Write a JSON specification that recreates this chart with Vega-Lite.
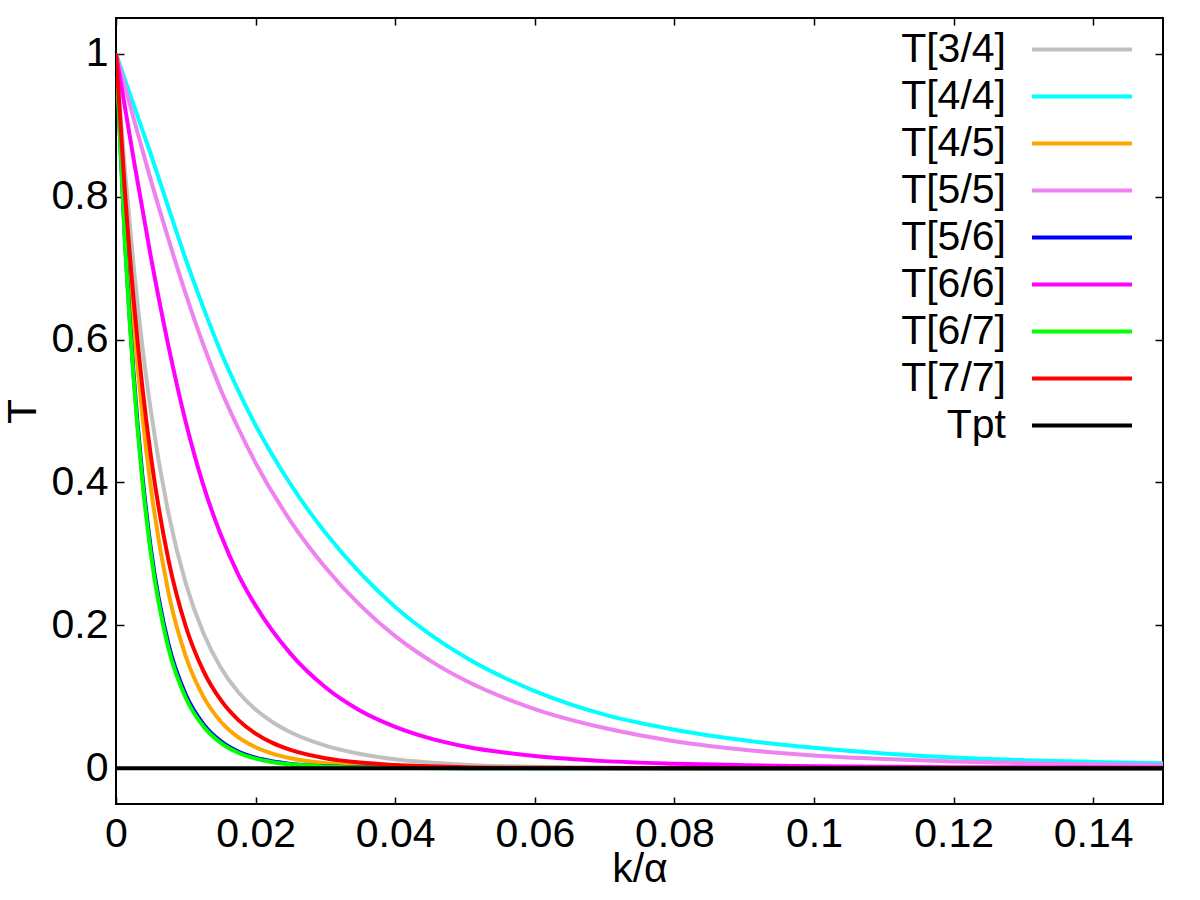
{
  "$schema": "https://vega.github.io/schema/vega-lite/v6.json",
  "width": 1047,
  "height": 786,
  "autosize": "none",
  "padding": {"left": 116, "top": 18, "right": 37, "bottom": 96},
  "background": "white",
  "config": {
    "view": {"stroke": "#000", "strokeWidth": 2},
    "font": "Liberation Sans"
  },
  "data": {
    "values": [
      {"s": "T[3/4]", "k": 0, "T": 1},
      {"s": "T[3/4]", "k": 0.00125, "T": 0.8395},
      {"s": "T[3/4]", "k": 0.0025, "T": 0.7054},
      {"s": "T[3/4]", "k": 0.00375, "T": 0.5928},
      {"s": "T[3/4]", "k": 0.005, "T": 0.4996},
      {"s": "T[3/4]", "k": 0.0075, "T": 0.3574},
      {"s": "T[3/4]", "k": 0.01, "T": 0.2585},
      {"s": "T[3/4]", "k": 0.0125, "T": 0.1896},
      {"s": "T[3/4]", "k": 0.015, "T": 0.1411},
      {"s": "T[3/4]", "k": 0.0175, "T": 0.1068},
      {"s": "T[3/4]", "k": 0.02, "T": 0.0821},
      {"s": "T[3/4]", "k": 0.0225, "T": 0.064},
      {"s": "T[3/4]", "k": 0.025, "T": 0.0504},
      {"s": "T[3/4]", "k": 0.03, "T": 0.0317},
      {"s": "T[3/4]", "k": 0.035, "T": 0.02},
      {"s": "T[3/4]", "k": 0.04, "T": 0.0126},
      {"s": "T[3/4]", "k": 0.05, "T": 0.00503},
      {"s": "T[3/4]", "k": 0.06, "T": 0.002},
      {"s": "T[3/4]", "k": 0.08, "T": 0.00032},
      {"s": "T[3/4]", "k": 0.1, "T": 0.00005},
      {"s": "T[3/4]", "k": 0.15, "T": 0},

      {"s": "T[4/4]", "k": 0, "T": 1},
      {"s": "T[4/4]", "k": 0.0025, "T": 0.929},
      {"s": "T[4/4]", "k": 0.005, "T": 0.859},
      {"s": "T[4/4]", "k": 0.0075, "T": 0.785},
      {"s": "T[4/4]", "k": 0.01, "T": 0.712},
      {"s": "T[4/4]", "k": 0.0125, "T": 0.645},
      {"s": "T[4/4]", "k": 0.015, "T": 0.583},
      {"s": "T[4/4]", "k": 0.0175, "T": 0.529},
      {"s": "T[4/4]", "k": 0.02, "T": 0.48},
      {"s": "T[4/4]", "k": 0.025, "T": 0.3975},
      {"s": "T[4/4]", "k": 0.03, "T": 0.3296},
      {"s": "T[4/4]", "k": 0.035, "T": 0.273},
      {"s": "T[4/4]", "k": 0.04, "T": 0.2258},
      {"s": "T[4/4]", "k": 0.045, "T": 0.1875},
      {"s": "T[4/4]", "k": 0.05, "T": 0.1557},
      {"s": "T[4/4]", "k": 0.06, "T": 0.108},
      {"s": "T[4/4]", "k": 0.07, "T": 0.075},
      {"s": "T[4/4]", "k": 0.08, "T": 0.054},
      {"s": "T[4/4]", "k": 0.09, "T": 0.0392},
      {"s": "T[4/4]", "k": 0.1, "T": 0.0287},
      {"s": "T[4/4]", "k": 0.11, "T": 0.0208},
      {"s": "T[4/4]", "k": 0.12, "T": 0.015},
      {"s": "T[4/4]", "k": 0.13, "T": 0.0114},
      {"s": "T[4/4]", "k": 0.14, "T": 0.0089},
      {"s": "T[4/4]", "k": 0.15, "T": 0.0071},

      {"s": "T[4/5]", "k": 0, "T": 1},
      {"s": "T[4/5]", "k": 0.00125, "T": 0.7937},
      {"s": "T[4/5]", "k": 0.0025, "T": 0.6281},
      {"s": "T[4/5]", "k": 0.00375, "T": 0.4966},
      {"s": "T[4/5]", "k": 0.005, "T": 0.3926},
      {"s": "T[4/5]", "k": 0.0075, "T": 0.2466},
      {"s": "T[4/5]", "k": 0.01, "T": 0.1566},
      {"s": "T[4/5]", "k": 0.0125, "T": 0.1006},
      {"s": "T[4/5]", "k": 0.015, "T": 0.0655},
      {"s": "T[4/5]", "k": 0.0175, "T": 0.0435},
      {"s": "T[4/5]", "k": 0.02, "T": 0.0294},
      {"s": "T[4/5]", "k": 0.0225, "T": 0.0202},
      {"s": "T[4/5]", "k": 0.025, "T": 0.0141},
      {"s": "T[4/5]", "k": 0.03, "T": 0.00712},
      {"s": "T[4/5]", "k": 0.035, "T": 0.00375},
      {"s": "T[4/5]", "k": 0.04, "T": 0.00203},
      {"s": "T[4/5]", "k": 0.05, "T": 0.00063},
      {"s": "T[4/5]", "k": 0.06, "T": 0.0002},
      {"s": "T[4/5]", "k": 0.15, "T": 0},

      {"s": "T[5/5]", "k": 0, "T": 1},
      {"s": "T[5/5]", "k": 0.0025, "T": 0.9105},
      {"s": "T[5/5]", "k": 0.005, "T": 0.8228},
      {"s": "T[5/5]", "k": 0.0075, "T": 0.7408},
      {"s": "T[5/5]", "k": 0.01, "T": 0.6637},
      {"s": "T[5/5]", "k": 0.0125, "T": 0.593},
      {"s": "T[5/5]", "k": 0.015, "T": 0.5302},
      {"s": "T[5/5]", "k": 0.0175, "T": 0.4762},
      {"s": "T[5/5]", "k": 0.02, "T": 0.4274},
      {"s": "T[5/5]", "k": 0.025, "T": 0.346},
      {"s": "T[5/5]", "k": 0.03, "T": 0.2811},
      {"s": "T[5/5]", "k": 0.035, "T": 0.2279},
      {"s": "T[5/5]", "k": 0.04, "T": 0.1849},
      {"s": "T[5/5]", "k": 0.045, "T": 0.1507},
      {"s": "T[5/5]", "k": 0.05, "T": 0.1231},
      {"s": "T[5/5]", "k": 0.06, "T": 0.0829},
      {"s": "T[5/5]", "k": 0.07, "T": 0.0563},
      {"s": "T[5/5]", "k": 0.08, "T": 0.0379},
      {"s": "T[5/5]", "k": 0.09, "T": 0.0259},
      {"s": "T[5/5]", "k": 0.1, "T": 0.018},
      {"s": "T[5/5]", "k": 0.11, "T": 0.013},
      {"s": "T[5/5]", "k": 0.12, "T": 0.0095},
      {"s": "T[5/5]", "k": 0.13, "T": 0.00725},
      {"s": "T[5/5]", "k": 0.14, "T": 0.0056},
      {"s": "T[5/5]", "k": 0.15, "T": 0.0045},

      {"s": "T[5/6]", "k": 0, "T": 1},
      {"s": "T[5/6]", "k": 0.00125, "T": 0.746},
      {"s": "T[5/6]", "k": 0.0025, "T": 0.5547},
      {"s": "T[5/6]", "k": 0.00375, "T": 0.4122},
      {"s": "T[5/6]", "k": 0.005, "T": 0.307},
      {"s": "T[5/6]", "k": 0.0075, "T": 0.1743},
      {"s": "T[5/6]", "k": 0.01, "T": 0.1029},
      {"s": "T[5/6]", "k": 0.0125, "T": 0.0622},
      {"s": "T[5/6]", "k": 0.015, "T": 0.038},
      {"s": "T[5/6]", "k": 0.0175, "T": 0.0234},
      {"s": "T[5/6]", "k": 0.02, "T": 0.01466},
      {"s": "T[5/6]", "k": 0.0225, "T": 0.00937},
      {"s": "T[5/6]", "k": 0.025, "T": 0.0061},
      {"s": "T[5/6]", "k": 0.03, "T": 0.00272},
      {"s": "T[5/6]", "k": 0.035, "T": 0.00127},
      {"s": "T[5/6]", "k": 0.04, "T": 0.00062},
      {"s": "T[5/6]", "k": 0.05, "T": 0.00016},
      {"s": "T[5/6]", "k": 0.15, "T": 0},

      {"s": "T[6/6]", "k": 0, "T": 1},
      {"s": "T[6/6]", "k": 0.0025, "T": 0.854},
      {"s": "T[6/6]", "k": 0.005, "T": 0.7153},
      {"s": "T[6/6]", "k": 0.0075, "T": 0.5916},
      {"s": "T[6/6]", "k": 0.01, "T": 0.4843},
      {"s": "T[6/6]", "k": 0.0125, "T": 0.3965},
      {"s": "T[6/6]", "k": 0.015, "T": 0.3271},
      {"s": "T[6/6]", "k": 0.0175, "T": 0.2715},
      {"s": "T[6/6]", "k": 0.02, "T": 0.2276},
      {"s": "T[6/6]", "k": 0.025, "T": 0.1604},
      {"s": "T[6/6]", "k": 0.03, "T": 0.1133},
      {"s": "T[6/6]", "k": 0.035, "T": 0.0805},
      {"s": "T[6/6]", "k": 0.04, "T": 0.058},
      {"s": "T[6/6]", "k": 0.045, "T": 0.0419},
      {"s": "T[6/6]", "k": 0.05, "T": 0.0305},
      {"s": "T[6/6]", "k": 0.06, "T": 0.0171},
      {"s": "T[6/6]", "k": 0.07, "T": 0.01},
      {"s": "T[6/6]", "k": 0.08, "T": 0.00647},
      {"s": "T[6/6]", "k": 0.09, "T": 0.00432},
      {"s": "T[6/6]", "k": 0.1, "T": 0.003},
      {"s": "T[6/6]", "k": 0.12, "T": 0.0015},
      {"s": "T[6/6]", "k": 0.15, "T": 0.0008},

      {"s": "T[6/7]", "k": 0, "T": 1},
      {"s": "T[6/7]", "k": 0.00125, "T": 0.7415},
      {"s": "T[6/7]", "k": 0.0025, "T": 0.5481},
      {"s": "T[6/7]", "k": 0.00375, "T": 0.4048},
      {"s": "T[6/7]", "k": 0.005, "T": 0.2997},
      {"s": "T[6/7]", "k": 0.0075, "T": 0.1682},
      {"s": "T[6/7]", "k": 0.01, "T": 0.0983},
      {"s": "T[6/7]", "k": 0.0125, "T": 0.0588},
      {"s": "T[6/7]", "k": 0.015, "T": 0.0355},
      {"s": "T[6/7]", "k": 0.0175, "T": 0.0217},
      {"s": "T[6/7]", "k": 0.02, "T": 0.01344},
      {"s": "T[6/7]", "k": 0.0225, "T": 0.0085},
      {"s": "T[6/7]", "k": 0.025, "T": 0.0055},
      {"s": "T[6/7]", "k": 0.03, "T": 0.00241},
      {"s": "T[6/7]", "k": 0.035, "T": 0.00111},
      {"s": "T[6/7]", "k": 0.04, "T": 0.00053},
      {"s": "T[6/7]", "k": 0.05, "T": 0.00013},
      {"s": "T[6/7]", "k": 0.15, "T": 0},

      {"s": "T[7/7]", "k": 0, "T": 1},
      {"s": "T[7/7]", "k": 0.00125, "T": 0.811},
      {"s": "T[7/7]", "k": 0.0025, "T": 0.6587},
      {"s": "T[7/7]", "k": 0.00375, "T": 0.5359},
      {"s": "T[7/7]", "k": 0.005, "T": 0.4366},
      {"s": "T[7/7]", "k": 0.0075, "T": 0.2923},
      {"s": "T[7/7]", "k": 0.01, "T": 0.1984},
      {"s": "T[7/7]", "k": 0.0125, "T": 0.1367},
      {"s": "T[7/7]", "k": 0.015, "T": 0.0956},
      {"s": "T[7/7]", "k": 0.0175, "T": 0.0678},
      {"s": "T[7/7]", "k": 0.02, "T": 0.0486},
      {"s": "T[7/7]", "k": 0.0225, "T": 0.0352},
      {"s": "T[7/7]", "k": 0.025, "T": 0.0257},
      {"s": "T[7/7]", "k": 0.03, "T": 0.01405},
      {"s": "T[7/7]", "k": 0.035, "T": 0.00793},
      {"s": "T[7/7]", "k": 0.04, "T": 0.00458},
      {"s": "T[7/7]", "k": 0.05, "T": 0.00158},
      {"s": "T[7/7]", "k": 0.06, "T": 0.00057},
      {"s": "T[7/7]", "k": 0.08, "T": 0.00008},
      {"s": "T[7/7]", "k": 0.15, "T": 0},

      {"s": "Tpt", "k": 0, "T": 0},
      {"s": "Tpt", "k": 0.15, "T": 0}
    ]
  },
  "layer": [
    {
      "transform": [{"filter": "datum.s !== 'Tpt'"}],
      "mark": {"type": "line", "strokeWidth": 4, "interpolate": "monotone", "clip": true},
      "encoding": {
        "x": {
          "field": "k", "type": "quantitative",
          "scale": {"domain": [0, 0.15], "nice": false, "zero": false},
          "axis": {
            "values": [0, 0.02, 0.04, 0.06, 0.08, 0.1, 0.12, 0.14],
            "format": "~g", "grid": false, "domain": false,
            "tickSize": -7, "tickWidth": 1.5, "tickColor": "#000",
            "labelFont": "Liberation Sans", "labelFontSize": 41, "labelColor": "#000",
            "labelPadding": 17, "labelDx": 5, "labelFlush": false, "labelOverlap": false,
            "title": "k/α", "titleFont": "Liberation Sans", "titleFontSize": 41,
            "titleFontWeight": "normal", "titleColor": "#000", "titlePadding": -5
          }
        },
        "y": {
          "field": "T", "type": "quantitative",
          "scale": {"domain": [-0.05, 1.05], "nice": false, "zero": false},
          "axis": {
            "values": [0, 0.2, 0.4, 0.6, 0.8, 1],
            "format": "~g", "grid": false, "domain": false,
            "tickSize": -8, "tickWidth": 1.5, "tickColor": "#000",
            "labelFont": "Liberation Sans", "labelFontSize": 41, "labelColor": "#000",
            "labelPadding": 16, "labelFlush": false, "labelOverlap": false,
            "title": "T", "titleFont": "Liberation Sans", "titleFontSize": 41,
            "titleFontWeight": "normal", "titleColor": "#000", "titlePadding": 7
          }
        },
        "color": {
          "field": "s", "type": "nominal",
          "scale": {
            "domain": ["T[3/4]", "T[4/4]", "T[4/5]", "T[5/5]", "T[5/6]", "T[6/6]", "T[6/7]", "T[7/7]", "Tpt"],
            "range": ["#c0c0c0", "#00ffff", "#ffa500", "#ee82ee", "#0000ff", "#ff00ff", "#00ff00", "#ff0000", "#000000"]
          },
          "legend": {
            "orient": "none", "legendX": 944, "legendY": 9.5, "title": null,
            "symbolType": "M-2.5,0H2.5", "symbolSize": 1600, "symbolStrokeWidth": 4,
            "labelFont": "Liberation Sans", "labelFontSize": 41, "labelColor": "#000",
            "labelAlign": "right", "labelOffset": -98, "labelLimit": 400,
            "rowPadding": 5, "padding": 0
          }
        }
      }
    },
    {
      "transform": [{"filter": "datum.s === 'Tpt'"}],
      "mark": {"type": "line", "strokeWidth": 4, "clip": true},
      "encoding": {
        "x": {
          "field": "k", "type": "quantitative",
          "axis": {
            "orient": "top", "values": [0, 0.02, 0.04, 0.06, 0.08, 0.1, 0.12, 0.14],
            "labels": false, "title": null, "grid": false, "domain": false,
            "tickSize": -7, "tickWidth": 1.5, "tickColor": "#000"
          }
        },
        "y": {
          "field": "T", "type": "quantitative",
          "axis": {
            "orient": "right", "values": [0, 0.2, 0.4, 0.6, 0.8, 1],
            "labels": false, "title": null, "grid": false, "domain": false,
            "tickSize": -8, "tickWidth": 1.5, "tickColor": "#000"
          }
        },
        "color": {"field": "s", "type": "nominal"}
      }
    }
  ],
  "resolve": {"axis": {"x": "independent", "y": "independent"}}
}
